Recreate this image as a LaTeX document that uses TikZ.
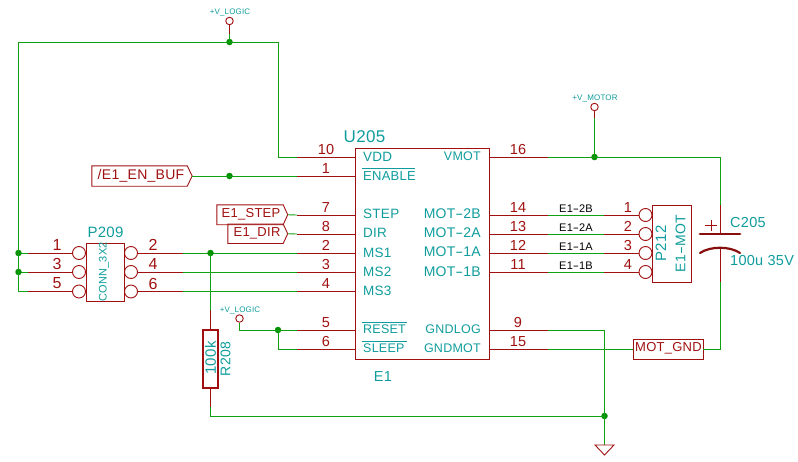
\documentclass[tikz,border=0pt]{standalone}
\usepackage{fontspec}
\usepackage{graphicx}
\setmainfont{Liberation Sans}[LetterSpace=2]
\definecolor{pinred}{HTML}{A01010}
\definecolor{wiregreen}{HTML}{10A010}
\definecolor{teal}{HTML}{109C9C}
\definecolor{dotgreen}{HTML}{009000}
\newcommand\hy{\scalebox{1.7}[1]{-}}
\newcommand\fs[1]{\fontsize{#1}{#1}\selectfont}
\tikzset{
  x=1pt,y=-1pt,
  pinline/.style={draw=pinred,line width=0.9pt},
  wire/.style={draw=wiregreen,line width=0.9pt},
  symbox/.style={draw=pinred,line width=0.9pt,rectangle,inner sep=0pt},
  lbl/.style={text=teal,font=\fs{13.5},inner sep=0pt},
  lbln/.style={text=teal,font=\fs{12.5},inner sep=0pt},
  num/.style={text=pinred,font=\fs{14.5},inner sep=0pt},
  tiny/.style={text=teal,font=\fs{8},inner sep=0pt},
  netlbl/.style={text=black,font=\fs{11},inner sep=0pt},
  flagtxt/.style={text=pinred,font=\fs{13},inner sep=0pt},
  pad/.style={draw=pinred,line width=0.9pt,circle,minimum size=13pt,inner sep=0pt},
  pwr/.style={draw=pinred,line width=0.9pt,circle,minimum size=7.5pt,inner sep=0pt},
  dot/.style={fill=dotgreen,circle,minimum size=6.5pt,inner sep=0pt},
  bar/.style={draw=teal,line width=0.8pt},
  flagbox/.style={draw=none,inner sep=0pt,rectangle},
}
\begin{document}
\begin{tikzpicture}
\useasboundingbox (0,0) rectangle (798,461);
% IC
\node[symbox,minimum width=134.5pt,minimum height=211pt] (ic) at (422.25,253.5) {};
\node[lbl,font=\fs{17}] (icref) at (364.5,137) {U205};
\node[lbl,font=\fs{14.5}] (icval) at (383,377) {E1};
% left pins of the IC
\foreach \nm/\y/\n in {vdd/157/10,ena/176/1,stp/215/7,dir/234/8,msa/253/2,msb/272/3,msc/291.5/4,rst/330/5,slp/349/6}{
  \coordinate (\nm A) at (355,\y);
  \coordinate (\nm B) at (297,\y);
  \draw[pinline] (\nm A) -- (\nm B);
  \node[num] (\nm N) at (326,\y-7.5) {\n};
}
\node[lbl,anchor=west] (tvdd) at (363,157) {VDD};
\node[lbl,anchor=west,font=\fs{13}] (tena) at (363,176) {ENABLE};
\node[lbl,anchor=west] (tstp) at (363,214) {STEP};
\node[lbl,anchor=west] (tdir) at (363,233) {DIR};
\node[lbl,anchor=west] (tmsa) at (363,253) {MS1};
\node[lbl,anchor=west] (tmsb) at (363,272) {MS2};
\node[lbl,anchor=west] (tmsc) at (363,291) {MS3};
\node[lbln,anchor=west] (trst) at (363,329) {RESET};
\node[lbln,anchor=west] (tslp) at (363,348) {SLEEP};
\draw[bar] (362,168.5) -- (415,168.5);
\draw[bar] (362,322) -- (407,322);
\draw[bar] (362,341) -- (407,341);
% right pins of the IC
\foreach \nm/\y/\n in {vmo/157/16,mtd/215/14,mtc/234/13,mtb/253/12,mta/272/11,gnl/330/9,gnm/349/15}{
  \coordinate (\nm A) at (489.5,\y);
  \coordinate (\nm B) at (547.5,\y);
  \draw[pinline] (\nm A) -- (\nm B);
  \node[num] (\nm N) at (518,\y-7.5) {\n};
}
\node[lbln,anchor=east] (tvmo) at (481,156) {VMOT};
\node[lbl,anchor=east,font=\fs{14}] (tmtd) at (481,214) {MOT\hy2B};
\node[lbl,anchor=east,font=\fs{14}] (tmtc) at (481,233) {MOT\hy2A};
\node[lbl,anchor=east,font=\fs{14}] (tmtb) at (481,252) {MOT\hy1A};
\node[lbl,anchor=east,font=\fs{14}] (tmta) at (481,272) {MOT\hy1B};
\node[lbln,anchor=east] (tgnl) at (481,329) {GNDLOG};
\node[lbln,anchor=east] (tgnm) at (481,348) {GNDMOT};
% P212
\node[symbox,minimum width=38.5pt,minimum height=77pt] (mot) at (672,243.5) {};
\node[lbl,rotate=90,font=\fs{15}] (motref) at (661,243.5) {P212};
\node[lbl,rotate=90,font=\fs{14}] (motval) at (680.5,243.5) {E1\hy MOT};
\foreach \nm/\y/\n/\t/\src in {a/215/1/E1\hy2B/mtd,b/234/2/E1\hy2A/mtc,c/253/3/E1\hy1A/mtb,d/272/4/E1\hy1B/mta}{
  \node[pad] (mp\nm) at (645.5,\y) {};
  \coordinate (mq\nm) at (604,\y);
  \draw[pinline] (mq\nm) -- (mp\nm);
  \node[num] (mn\nm) at (628,\y-7.5) {\n};
  \draw[wire] (\src B) -- (mq\nm);
  \node[netlbl] (ml\nm) at (576,\y-6.5) {\t};
}
% P209
\node[symbox,minimum width=38.5pt,minimum height=57.5pt] (hdr) at (105.25,272.25) {};
\node[lbl,font=\fs{15}] (hdrref) at (105.5,232.5) {P209};
\node[lbl,rotate=90,font=\fs{11}] (hdrval) at (104,272) {CONN\_3X2};
\foreach \nm/\y/\l/\r in {a/253/1/2,b/272/3/4,c/291.5/5/6}{
  \node[pad] (hl\nm) at (79,\y) {};
  \node[pad] (hr\nm) at (131,\y) {};
  \coordinate (hL\nm) at (28,\y);
  \coordinate (hR\nm) at (182.5,\y);
  \coordinate (hE\nm) at (18.5,\y);
  \draw[pinline] (hL\nm) -- (hl\nm);
  \draw[pinline] (hr\nm) -- (hR\nm);
  \node[num,font=\fs{16}] (hn\l) at (57,\y-8) {\l};
  \node[num,font=\fs{16}] (hn\r) at (153,\y-8) {\r};
}
\draw[wire] (hRa) -- (msaB);
\draw[wire] (hRb) -- (msbB);
\draw[wire] (hRc) -- (mscB);
\draw[wire] (hEa) -- (hLa);
\draw[wire] (hEb) -- (hLb);
\draw[wire] (hEc) -- (hLc);
\node[dot] (jla) at (hEa) {};
\node[dot] (jlb) at (hEb) {};
% top power net
\node[pwr] (pwrA) at (229.5,21) {};
\node[tiny] (pwrAt) at (230,12.5) {+V\_LOGIC};
\coordinate (pwrAm) at (229.5,34);
\node[dot] (jtop) at (229.5,42) {};
\draw[pinline] (pwrA) -- (pwrAm);
\draw[wire] (pwrAm) -- (jtop.center);
\coordinate (tl) at (18.5,42);
\coordinate (tr) at (278,42);
\draw[wire] (hEc) -- (tl) -- (tr) |- (vddB);
% flags
\node[flagbox,minimum width=100pt,minimum height=20pt] (en) at (142,176) {};
\draw[pinline] (en.north west) -- ([xshift=-5pt]en.north east) -- (en.east) -- ([xshift=-5pt]en.south east) -- (en.south west) -- cycle;
\node[flagtxt,font=\fs{14}] (ent) at (141,176) {/E1\_EN\_BUF};
\node[dot] (jen) at (229.5,176) {};
\draw[wire] (en.east) -- (enaB);
\node[flagbox,minimum width=70.5pt,minimum height=19.5pt] (st) at (252.25,214.75) {};
\draw[pinline] (st.north west) -- ([xshift=-4.5pt]st.north east) -- (st.east) -- ([xshift=-4.5pt]st.south east) -- (st.south west) -- cycle;
\node[flagtxt] (stt) at (251,214.5) {E1\_STEP};
\draw[wire] (st.east) -- (stpB);
\node[flagbox,minimum width=59.5pt,minimum height=19pt] (dr) at (257.75,233.75) {};
\draw[pinline] (dr.north west) -- ([xshift=-4.5pt]dr.north east) -- (dr.east) -- ([xshift=-4.5pt]dr.south east) -- (dr.south west) -- cycle;
\node[flagtxt] (drt) at (257,233.5) {E1\_DIR};
\draw[wire] (dr.east) -- (dirB);
% R208
\node[dot] (jms) at (210.5,253) {};
\node[symbox,line width=2.2pt,minimum width=15pt,minimum height=58pt] (res) at (210.5,359) {};
\node[lbl,rotate=90,font=\fs{15}] (resval) at (210.5,358) {100k};
\node[lbl,rotate=90,font=\fs{14}] (resref) at (225.5,359) {R208};
\coordinate (resT) at (210.5,310);
\coordinate (resB) at (210.5,407);
\coordinate (resC) at (210.5,416);
\draw[pinline] (res.north) -- (resT);
\draw[pinline] (res.south) -- (resB);
\draw[wire] (jms.center) -- (resT);
\node[dot] (jgnd) at (604.5,416) {};
\draw[wire] (resB) -- (resC) -- (jgnd.center);
% lower power net
\node[pwr] (pwrB) at (239.5,318.5) {};
\node[tiny] (pwrBt) at (240,310.5) {+V\_LOGIC};
\coordinate (pwrBm) at (239.5,323);
\coordinate (pwrBc) at (239.5,330);
\node[dot] (jrst) at (278,330) {};
\draw[pinline] (pwrB) -- (pwrBm);
\draw[wire] (pwrBm) -- (pwrBc) -- (rstB);
\coordinate (slc) at (278,349);
\draw[wire] (jrst.center) -- (slc) -- (slpB);
% ground
\coordinate (gndtop) at (604.5,445);
\coordinate (glc) at (604.5,330);
\draw[wire] (gnlB) -- (glc) -- (gndtop);
\coordinate (ga) at (595,445);
\coordinate (gb) at (614,445);
\coordinate (gc) at (604.5,455);
\draw[pinline] (ga) -- (gb) -- (gc) -- cycle;
% MOT_GND
\node[symbox,minimum width=69.5pt,minimum height=20pt] (mg) at (668.25,349) {};
\node[flagtxt] (mgt) at (668.5,348.5) {MOT\_GND};
\draw[wire] (gnmB) -- (mg.west);
% motor power
\node[pwr] (pwrC) at (594.5,107) {};
\node[tiny] (pwrCt) at (595,98.5) {+V\_MOTOR};
\coordinate (pwrCm) at (594.5,118);
\node[dot] (jmot) at (594.5,157) {};
\draw[pinline] (pwrC) -- (pwrCm);
\draw[wire] (pwrCm) -- (jmot.center);
% C205
\coordinate (capT) at (720,205);
\coordinate (capP) at (720,234);
\coordinate (capQ) at (720,248);
\coordinate (capB) at (720,282);
\coordinate (capL) at (700,234);
\coordinate (capR) at (740,234);
\coordinate (arcL) at (700,253);
\coordinate (arcR) at (740,253);
\coordinate (cnr) at (720,157);
\coordinate (cnb) at (720,349);
\draw[pinline] (capT) -- (capP);
\draw[pinline] (capQ) -- (capB);
\draw[draw=pinred!85!black,line width=2.8pt,line cap=round] (capL) -- (capR);
\draw[draw=pinred!85!black,line width=2.2pt,line cap=round] (arcL) .. controls (710,246) and (730,246) .. (arcR);
\draw[pinline] (705,225) -- (717,225) (711,219.5) -- (711,230.5);
\draw[wire] (vmoB) -- (cnr) -- (capT);
\draw[wire] (capB) -- (cnb) -- (mg.east);
\node[lbl,anchor=west,font=\fs{14.5}] (cref) at (730,223) {C205};
\node[lbl,anchor=west,font=\fs{14.5}] (cval) at (730,261) {100u 35V};
\end{tikzpicture}
\end{document}
